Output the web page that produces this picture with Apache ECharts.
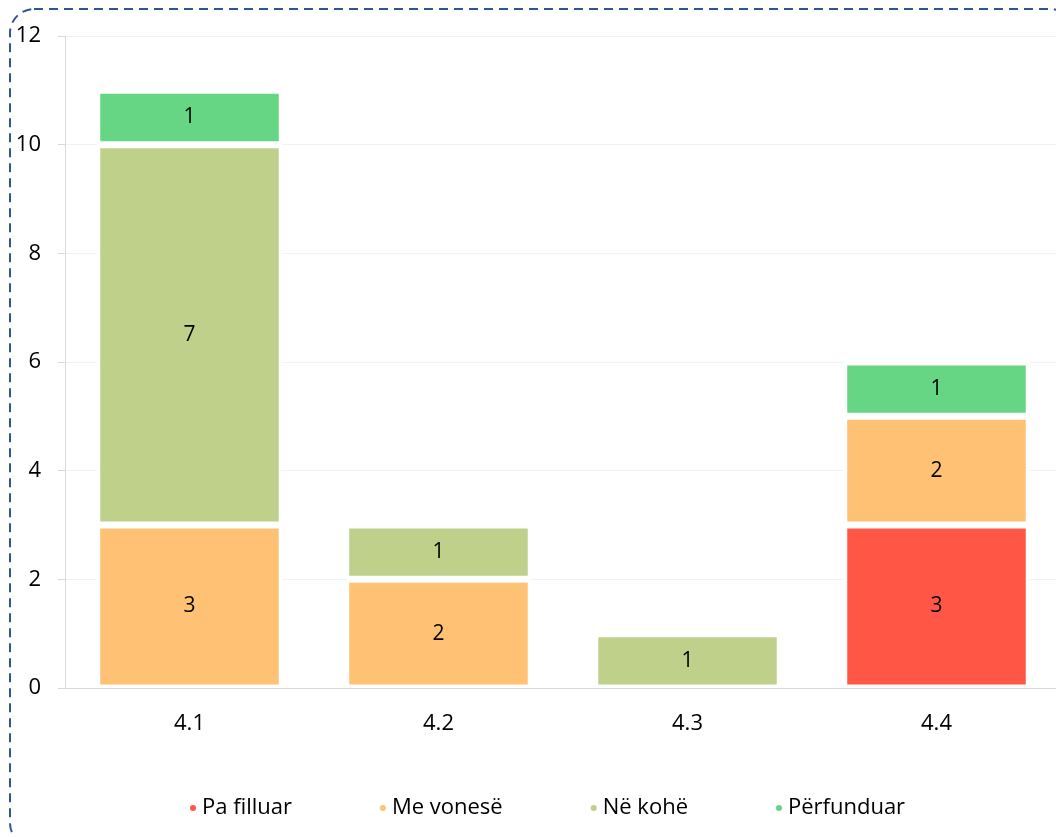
<!DOCTYPE html>
<html>
<head>
<meta charset="utf-8">
<script src="https://cdn.jsdelivr.net/npm/echarts@6/dist/echarts.min.js"></script>
<style>
  html, body { margin: 0; padding: 0; background: #fff; overflow: hidden; }
  #chart { width: 1066px; height: 837px; }
</style>
</head>
<body>
<div id="chart"></div>
<script>
// categories on the x axis
const categories = ['4.1', '4.2', '4.3', '4.4'];
// series names and values (null = no segment)
const seriesNames = ['Pa filluar', 'Me vonesë', 'Në kohë', 'Përfunduar'];
const paFilluar = [null, null, null, 3];
const meVonese = [3, 2, null, 2];
const neKohe = [7, 1, 1, null];
const perfunduar = [1, null, null, 1];
const colors = ['#FF5645', '#FFC174', '#BFD08A', '#66D685'];

const chart = echarts.init(document.getElementById('chart'));
const font = 'Open Sans';

// one bar series per status, stacked
const makeSeries = (name, data, color) => ({
  name: name,
  type: 'bar',
  stack: 'total',
  data: data,
  barWidth: '74.5%',
  itemStyle: {
    color: color,
    borderColor: '#fff',
    borderWidth: 3.5
  },
  label: {
    show: true,
    position: 'inside',
    color: '#000',
    fontFamily: font,
    fontSize: 21
  }
});

chart.setOption({
  animation: false,
  color: colors,
  graphic: [
    {
      // dashed frame round the whole chart
      type: 'rect',
      shape: { x: 10, y: 9, width: 1064, height: 838, r: 24 },
      style: { fill: 'none', stroke: '#2F5597', lineWidth: 2, lineDash: [9, 6] },
      z: 100
    }
  ],
  grid: {
    left: 65,
    right: 5,
    top: 36,
    bottom: 149
  },
  legend: {
    left: 183,
    top: 792,
    icon: 'circle',
    itemWidth: 8,
    itemHeight: 8,
    itemGap: 86,
    textStyle: { color: '#000', fontFamily: font, fontSize: 22 },
    data: seriesNames
  },
  xAxis: {
    type: 'category',
    data: categories,
    axisLine: { show: true, lineStyle: { color: '#d9d9d9', width: 1 } },
    axisTick: { show: false },
    axisLabel: { color: '#000', fontFamily: font, fontSize: 22, margin: 25 }
  },
  yAxis: {
    type: 'value',
    min: 0,
    max: 12,
    interval: 2,
    axisLine: { show: true, lineStyle: { color: '#d9d9d9', width: 1 } },
    axisTick: { show: true, length: 7, lineStyle: { color: '#d9d9d9' } },
    axisLabel: { color: '#000', fontFamily: font, fontSize: 22, margin: 24 },
    splitLine: { show: true, lineStyle: { color: '#f2f2f2' } }
  },
  series: [
    makeSeries(seriesNames[0], paFilluar, colors[0]),
    makeSeries(seriesNames[1], meVonese, colors[1]),
    makeSeries(seriesNames[2], neKohe, colors[2]),
    makeSeries(seriesNames[3], perfunduar, colors[3])
  ]
});
</script>
</body>
</html>
